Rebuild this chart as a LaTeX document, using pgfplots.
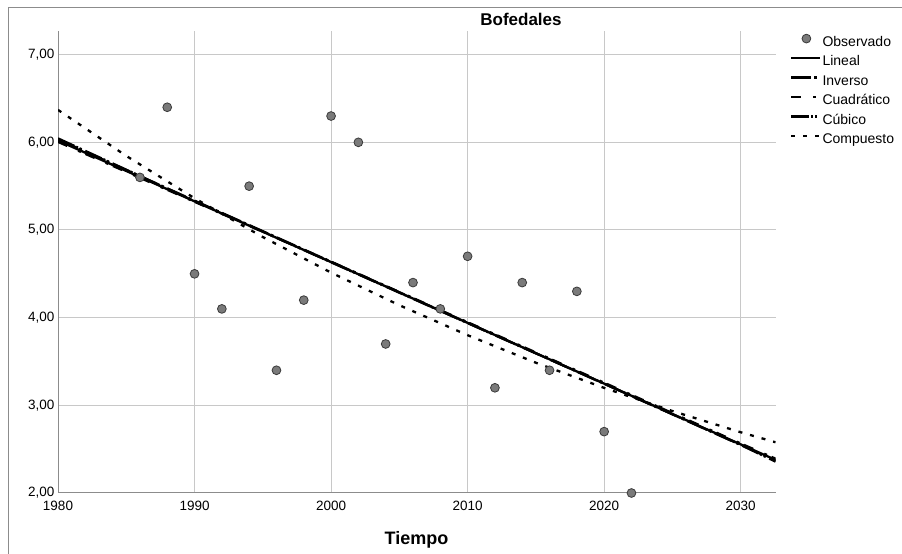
\documentclass[border=0pt]{standalone}
\usepackage{pgfplots}
\pgfplotsset{compat=1.18}
\usepackage{fontspec}
\setmainfont{Liberation Sans}
\definecolor{ptfill}{HTML}{7A7A7A}
\definecolor{ptdraw}{HTML}{3A3A3A}
\definecolor{gridc}{HTML}{C8C8C8}
\definecolor{axc}{HTML}{8C8C8C}
\pgfplotsset{
  linelegend/.style={legend image code/.code={\path (0pt,0pt) (30pt,0pt); \draw[##1, line width=2.4pt] (0pt,4pt) -- (29pt,4pt);}},
  ptlegend/.style={legend image code/.code={\path (0pt,0pt) (30pt,0pt); \draw[##1] plot[only marks] coordinates {(15pt,4pt)};}},
}
\begin{document}
\begin{tikzpicture}[x=1pt,y=1pt]
\useasboundingbox (0,0) rectangle (902,554);
\draw[axc, line width=1pt] (8,0) -- (8,546) -- (902,546);
\node[font=\bfseries\fontsize{17}{19}\selectfont] at (521,535) {Bofedales};
\node[font=\bfseries\fontsize{18}{20}\selectfont] at (416.5,14) {Tiempo};
\begin{axis}[
  at={(58pt,61pt)}, anchor=south west,
  scale only axis, width=717.5pt, height=462pt,
  xmin=1980, xmax=2032.55, ymin=2, ymax=7.27,
  axis x line*=bottom, axis y line*=left,
  axis line style={draw=axc, line width=1pt, -},
  xtick={1980,1990,2000,2010,2020,2030},
  ytick={2,3,4,5,6,7},
  major tick length=0pt,
  grid=major,
  major grid style={draw=gridc, line width=1pt},
  tick label style={font=\fontsize{13.5}{15}\selectfont, text=black},
  x tick label style={/pgf/number format/1000 sep={}, /pgf/number format/assume math mode=true, yshift=-4.5pt},
  y tick label style={/pgf/number format/fixed, /pgf/number format/fixed zerofill, /pgf/number format/precision=2, /pgf/number format/use comma, /pgf/number format/assume math mode=true},
  linelegend,
  legend cell align=left,
  legend style={at={(rel axis cs:1,1)}, anchor=north west, xshift=14.5pt, yshift=-3pt,
    draw=none, fill=none, inner sep=0pt, row sep=6.5pt, column sep=0pt,
    font=\fontsize{14}{16}\selectfont,
    nodes={inner xsep=0pt, inner ysep=0pt, text height=10pt, text depth=3pt}},
]
\addplot[only marks, mark=*, mark size=4.4pt, mark options={fill=ptfill, draw=ptdraw, line width=0.8pt}, ptlegend]
  coordinates {(1986,5.6) (1988,6.4) (1990,4.5) (1992,4.1) (1994,5.5) (1996,3.4) (1998,4.2)
  (2000,6.3) (2002,6.0) (2004,3.7) (2006,4.4) (2008,4.1) (2010,4.7) (2012,3.2) (2014,4.4)
  (2016,3.4) (2018,4.3) (2020,2.7) (2022,2.0)};
\addlegendentry{Observado}
\addplot[black, line width=2.3pt] coordinates {(1980,6.020) (2032.55,2.378)};
\addlegendentry{Lineal}
\addplot[black, line width=2.3pt, dash pattern=on 20pt off 3pt on 3pt off 4pt] coordinates {(1980,6.035) (1990,5.335) (2000,4.638) (2010,3.942) (2020,3.246) (2030,2.550) (2032.55,2.368)};
\addlegendentry{Inverso}
\addplot[black, line width=2.3pt, dash pattern=on 10pt off 12pt on 3pt off 5pt] coordinates {(1980,6.005) (1990,5.322) (2000,4.638) (2010,3.948) (2020,3.258) (2030,2.565) (2032.55,2.392)};
\addlegendentry{Cuadrático}
\addplot[black, line width=2.3pt, dash pattern=on 18pt off 2pt on 2pt off 2pt on 2pt off 4pt] coordinates {(1980,6.045) (1990,5.330) (2000,4.632) (2010,3.938) (2020,3.248) (2030,2.548) (2032.55,2.358)};
\addlegendentry{Cúbico}
\addplot[black, line width=2.3pt, dash pattern=on 4pt off 8pt] coordinates {(1980,6.370) (1985,5.845) (1990,5.362) (1995,4.920) (2000,4.514) (2005,4.142) (2010,3.800) (2015,3.486) (2020,3.199) (2025,2.935) (2030,2.693) (2032.55,2.579)};
\addlegendentry{Compuesto}
\end{axis}
\end{tikzpicture}
\end{document}
